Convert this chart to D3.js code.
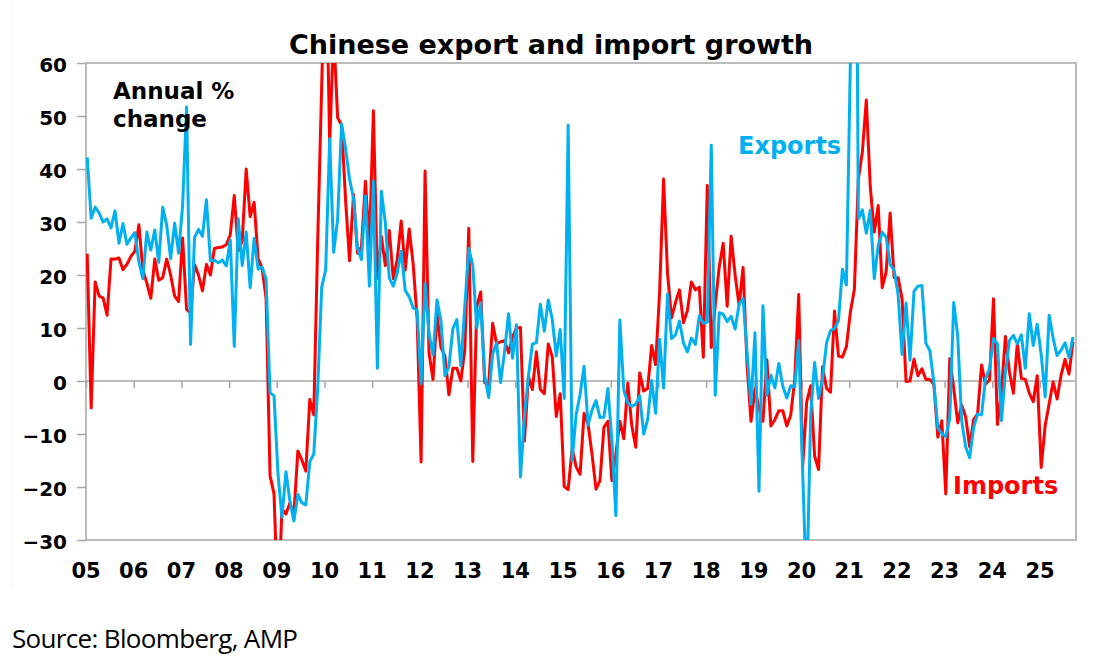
<!DOCTYPE html>
<html lang="en">
  <head>
    <meta charset="UTF-8" />
    <title>Chinese export and import growth</title>
    <script src="https://cdn.jsdelivr.net/npm/d3@7"></script>
    <style>
      body { margin: 0; background: #fff; }
      svg text { font-family: "DejaVu Sans", Arial, sans-serif; }
    </style>
  </head>
  <body>
    <svg id="chart" width="1106" height="665"></svg>
    <script>
      // monthly annual % change, Jan 2005 onward
      const exportsData = [
        42.2, 30.7, 32.8, 31.7, 30.0, 30.6, 28.9, 32.1, 26.0, 29.7, 25.8, 27.0,
        28.0, 22.5, 19.3, 28.1, 24.7, 28.5, 22.4, 32.8, 29.4, 23.1, 29.8, 24.1,
        33.1, 51.7, 6.9, 27.1, 28.6, 27.3, 34.2, 22.7, 22.8, 22.3, 22.8, 21.7,
        26.6, 6.5, 30.6, 21.8, 28.1, 17.6, 26.9, 21.1, 21.5, 19.2, -2.2, -2.8,
        -17.5, -25.7, -17.1, -22.6, -26.4, -21.4, -23.0, -23.4, -15.2, -13.8, -1.2, 17.7,
        21.0, 45.7, 24.3, 30.5, 48.5, 43.9, 38.1, 34.4, 25.1, 22.9, 34.9, 17.9,
        37.7, 2.4, 35.8, 29.9, 19.4, 17.9, 20.4, 24.5, 17.1, 15.9, 13.8, 13.4,
        -0.5, 18.4, 8.9, 4.9, 15.3, 11.3, 1.0, 2.7, 9.9, 11.6, 2.9, 14.1,
        25.0, 21.8, 10.0, 14.7, 1.0, -3.1, 5.1, 7.2, -0.3, 5.6, 12.7, 4.3,
        10.6, -18.1, -6.6, 0.9, 7.0, 7.2, 14.5, 9.4, 15.3, 11.6, 4.7, 9.7,
        -3.3, 48.3, -15.0, -6.4, -2.5, 2.8, -8.3, -5.5, -3.7, -6.9, -6.8, -1.4,
        -11.2, -25.4, 11.5, -1.8, -4.1, -4.8, -4.4, -2.8, -10.0, -7.3, 0.1, -6.1,
        7.9, -1.3, 16.4, 8.0, 8.7, 11.3, 7.2, 5.5, 8.1, 6.9, 12.3, 10.9,
        11.1, 44.5, -2.7, 12.9, 12.6, 11.2, 12.2, 9.8, 14.5, 15.6, 5.4, -4.4,
        9.1, -20.8, 14.2, -2.7, 1.1, -1.3, 3.3, -1.0, -3.2, -0.9, -1.1, 7.6,
        -17.2, -40.6, -6.6, 3.5, -3.3, 0.5, 7.2, 9.5, 9.9, 11.4, 21.1, 18.1,
        60.6, 154.9, 30.6, 32.3, 27.9, 32.2, 19.3, 25.6, 28.1, 27.1, 22.0, 20.9,
        16.3, 5.0, 14.7, 3.9, 16.9, 17.9, 18.0, 7.1, 5.7, -0.3, -8.9, -9.9,
        -10.5, -7.0, 14.8, 8.5, -7.5, -12.4, -14.5, -8.8, -6.2, -6.4, 0.5, 2.3,
        8.0, 7.0, -7.5, 1.5, 7.6, 8.6, 7.0, 8.7, 2.4, 12.7, 6.7, 10.7,
        5.0, -3.0, 12.4, 8.1, 4.8, 5.8, 7.2, 4.4, 8.3
      ];
      const importsData = [
        24.0, -5.1, 18.7, 16.0, 15.7, 12.4, 23.0, 23.0, 23.2, 21.0, 22.0, 23.5,
        24.5, 29.5, 21.0, 18.5, 15.6, 23.0, 19.0, 19.5, 23.0, 20.0, 16.0, 15.0,
        27.0, 13.5, 12.8, 22.0, 20.0, 17.0, 22.0, 20.0, 25.0, 25.2, 25.3, 25.7,
        27.6, 35.0, 24.6, 26.4, 40.0, 31.0, 33.7, 23.1, 21.3, 15.6, -17.9, -21.3,
        -43.1, -24.1, -25.1, -23.0, -25.2, -13.2, -14.9, -17.0, -3.5, -6.4, 26.7, 55.9,
        85.5, 44.7, 66.0, 49.7, 48.3, 34.1, 22.7, 35.2, 24.1, 25.3, 37.7, 25.6,
        51.0, 19.4, 27.3, 21.8, 28.4, 19.3, 22.9, 30.2, 20.9, 28.7, 22.1, 11.8,
        -15.3, 39.6, 5.3, 0.3, 12.7, 6.3, 4.7, -2.6, 2.4, 2.4, 0.0, 6.0,
        28.8, -15.2, 14.1, 16.8, -0.3, -0.7, 10.9, 7.0, 7.4, 7.6, 5.3, 8.3,
        10.0, 10.1, -11.3, 0.8, -1.6, 5.5, -1.6, -2.4, 7.0, 4.6, -6.7, -2.4,
        -19.9, -20.5, -12.7, -16.2, -17.6, -6.1, -8.1, -13.8, -20.4, -18.8, -8.7, -7.6,
        -18.8, -13.8, -7.6, -10.9, -0.4, -8.4, -12.5, 1.5, -1.9, -1.4, 6.7, 3.1,
        16.7, 38.1, 20.3, 11.9, 14.8, 17.2, 11.0, 13.3, 18.7, 17.2, 17.7, 4.5,
        36.9, 6.3, 14.4, 21.5, 26.0, 14.1, 27.3, 20.0, 14.3, 21.4, 3.0, -7.6,
        -1.5, -5.2, -7.6, 4.0, -8.5, -7.3, -5.6, -5.6, -8.5, -6.4, 0.3, 16.3,
        -16.0, -4.0, -0.9, -14.2, -16.7, 2.7, -1.4, -2.1, 13.2, 4.7, 4.5, 6.5,
        13.0, 17.3, 38.1, 43.1, 53.0, 36.7, 28.1, 33.1, 17.6, 20.6, 31.7, 19.5,
        19.5, 15.5, -0.1, 0.0, 4.1, 1.0, 2.3, 0.3, 0.3, -0.7, -10.6, -7.5,
        -21.3, 4.2, -1.4, -7.9, -4.5, -6.8, -12.4, -7.3, -6.2, 3.0, -0.6, 0.2,
        15.5, -8.2, -1.9, 8.4, 1.8, -2.3, 7.2, 0.5, 0.3, -2.3, -3.9, 1.0,
        -16.3, -8.4, -4.3, -0.2, -3.4, 1.1, 4.1, 1.3, 7.4
      ];
      const yearLabels = ["05","06","07","08","09","10","11","12","13","14","15",
                          "16","17","18","19","20","21","22","23","24","25"];
      const yTicks = [-30, -20, -10, 0, 10, 20, 30, 40, 50, 60];

      const svg = d3.select("#chart");
      const plotL = 86, plotR = 1076, plotT = 63, plotB = 540;
      const yearW = 47.7;

      const x = d3.scaleLinear().domain([0, 12]).range([plotL, plotL + yearW]);
      const y = d3.scaleLinear().domain([-30, 60]).range([plotB, plotT]);

      // faint chart-area border
      svg.append("line").attr("x1", 12).attr("x2", 12).attr("y1", 0).attr("y2", 588)
        .attr("stroke", "#eee");

      // title
      svg.append("text").attr("x", 551).attr("y", 54).attr("text-anchor", "middle")
        .attr("font-size", 27).attr("font-weight", "bold").text("Chinese export and import growth");

      // plot frame
      svg.append("rect").attr("x", plotL).attr("y", plotT)
        .attr("width", plotR - plotL).attr("height", plotB - plotT)
        .attr("fill", "none").attr("stroke", "#a6a6a6").attr("stroke-width", 1.5);

      // y axis
      const yAxis = svg.append("g").attr("transform", `translate(${plotL},0)`)
        .call(d3.axisLeft(y).tickValues(yTicks).tickSize(9).tickPadding(10));
      yAxis.select(".domain").remove();
      yAxis.selectAll("line").attr("stroke", "#a6a6a6").attr("stroke-width", 1.5);
      yAxis.selectAll("text").attr("font-size", 20).attr("font-weight", "bold")
        .attr("fill", "#000").attr("dy", "0.4em")
        .style("font-family", "'DejaVu Sans', Arial, sans-serif");

      // zero line with year ticks
      const xAxis = svg.append("g").attr("transform", `translate(0,${y(0)})`)
        .call(d3.axisBottom(x).tickValues(d3.range(0, 12 * 21, 12)).tickSize(7).tickFormat(""));
      xAxis.select(".domain").attr("d", `M${plotL},0H${plotR}`).attr("stroke", "#a6a6a6").attr("stroke-width", 1.5);
      xAxis.selectAll("line").attr("stroke", "#a6a6a6").attr("stroke-width", 1.5);

      // year labels under the plot
      svg.append("g").selectAll("text").data(yearLabels).join("text")
        .attr("x", (d, i) => x(i * 12)).attr("y", 578).attr("text-anchor", "middle")
        .attr("font-size", 21).attr("font-weight", "bold").text(d => d);

      svg.append("defs").append("clipPath").attr("id", "plotClip")
        .append("rect").attr("x", plotL).attr("y", plotT).attr("width", plotR - plotL).attr("height", plotB - plotT);

      const line = d3.line().x((d, i) => x(i + 0.3)).y(d => y(d));

      svg.append("path").datum(importsData).attr("clip-path", "url(#plotClip)")
        .attr("d", line).attr("fill", "none").attr("stroke", "#ff0000").attr("stroke-width", 3)
        .attr("stroke-linejoin", "round");
      svg.append("path").datum(exportsData).attr("clip-path", "url(#plotClip)")
        .attr("d", line).attr("fill", "none").attr("stroke", "#00b0f0").attr("stroke-width", 3)
        .attr("stroke-linejoin", "round");

      // annotations
      svg.append("text").attr("x", 113).attr("y", 99).attr("font-size", 23).attr("font-weight", "bold").text("Annual %");
      svg.append("text").attr("x", 113).attr("y", 127).attr("font-size", 23).attr("font-weight", "bold").text("change");
      svg.append("text").attr("x", 738).attr("y", 154).attr("font-size", 24).attr("font-weight", "bold")
        .attr("fill", "#00b0f0").text("Exports");
      svg.append("text").attr("x", 953).attr("y", 494).attr("font-size", 24).attr("font-weight", "bold")
        .attr("fill", "#ff0000").text("Imports");

      svg.append("text").attr("x", 12).attr("y", 648).attr("font-size", 26)
        .style("font-family", "'Open Sans', sans-serif").attr("textLength", 286).text("Source: Bloomberg, AMP");
    </script>
  </body>
</html>
